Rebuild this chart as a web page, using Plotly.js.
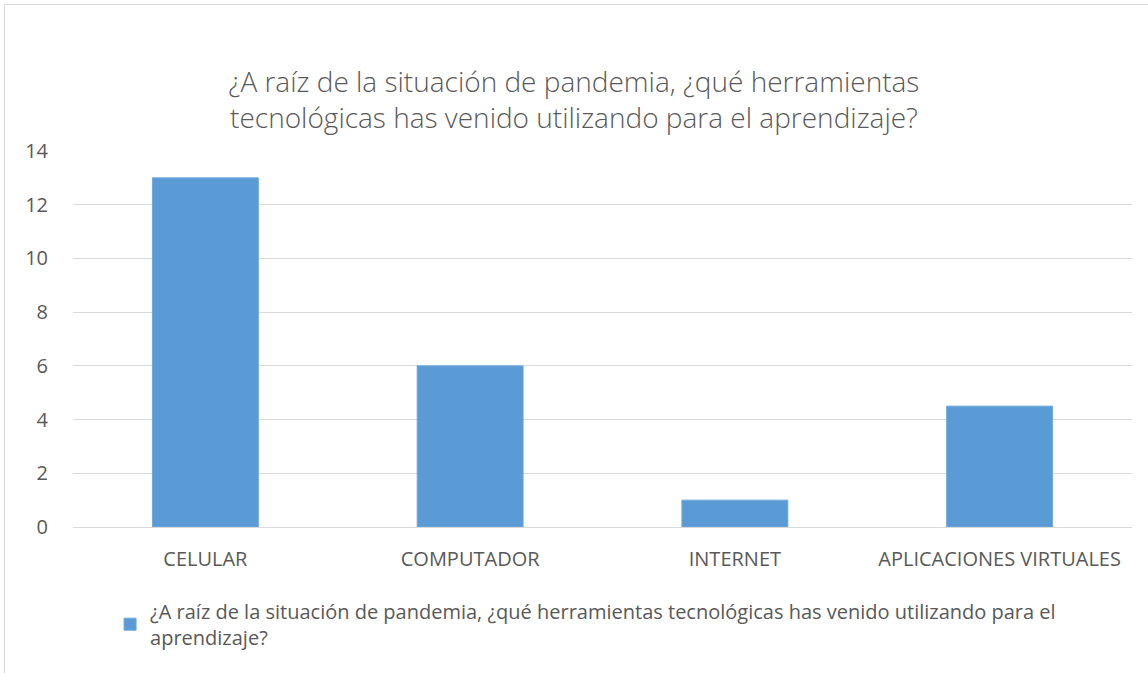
<!DOCTYPE html>
<html>
<head>
<meta charset="utf-8">
<script src="https://cdn.plot.ly/plotly-3.0.1.min.js"></script>
<style>
html,body{margin:0;padding:0;background:#fff;}
#wrap{position:absolute;left:4px;top:4px;width:1150px;height:675px;border:1px solid #d9d9d9;box-sizing:border-box;}
#chart{position:absolute;left:0;top:0;width:1148px;height:673px;}
</style>
</head>
<body>
<div id="wrap"></div>
<div id="chart"></div>
<script>
const categories = ["CELULAR", "COMPUTADOR", "INTERNET", "APLICACIONES VIRTUALES"];
const values = [13, 6, 1, 4.5];
const seriesName = "¿A raíz de la situación de pandemia, ¿qué herramientas tecnológicas has venido utilizando para el<br>aprendizaje?";
const titleText = "¿A raíz de la situación de pandemia, ¿qué herramientas<br>tecnológicas has venido utilizando para el aprendizaje?";
const yTicks = [0, 2, 4, 6, 8, 10, 12, 14];

const font = '"Open Sans", sans-serif';
const trace = {
  type: 'bar',
  x: categories,
  y: values,
  name: seriesName,
  showlegend: true,
  marker: {color: '#5b9bd5', line: {color: '#6fa8dc', width: 1}},
  hoverinfo: 'x+y'
};
const layout = {
  width: 1148, height: 673,
  paper_bgcolor: 'rgba(0,0,0,0)', plot_bgcolor: 'rgba(0,0,0,0)',
  margin: {l: 73, r: 16, t: 151, b: 146},
  bargap: 0.6,
  title: {
    text: titleText,
    font: {family: font, size: 28, color: '#595959', weight: 300},
    x: 0.5, xanchor: 'center',
    y: 1 - 92/673, yref: 'container', yanchor: 'middle'
  },
  xaxis: {
    type: 'category',
    tickfont: {family: font, size: 20, color: '#595959'},
    showline: false, ticks: '', showgrid: false,
    ticklabelstandoff: 18
  },
  yaxis: {
    range: [0, 14], tickvals: yTicks, ticktext: yTicks.map(String),
    tickfont: {family: font, size: 20, color: '#595959'},
    gridcolor: '#d9d9d9', gridwidth: 1, zeroline: true, zerolinecolor: '#d9d9d9', zerolinewidth: 1,
    ticks: '', showline: false, ticklabelstandoff: 24
  },
  showlegend: true,
  legend: {
    orientation: 'h', x: 0.035, xanchor: 'left', y: -0.172, yanchor: 'top',
    font: {family: font, size: 20, color: '#595959'},
    itemwidth: 30
  }
};
Plotly.newPlot('chart', [trace], layout, {displayModeBar: false, staticPlot: true});
</script>
</body>
</html>
